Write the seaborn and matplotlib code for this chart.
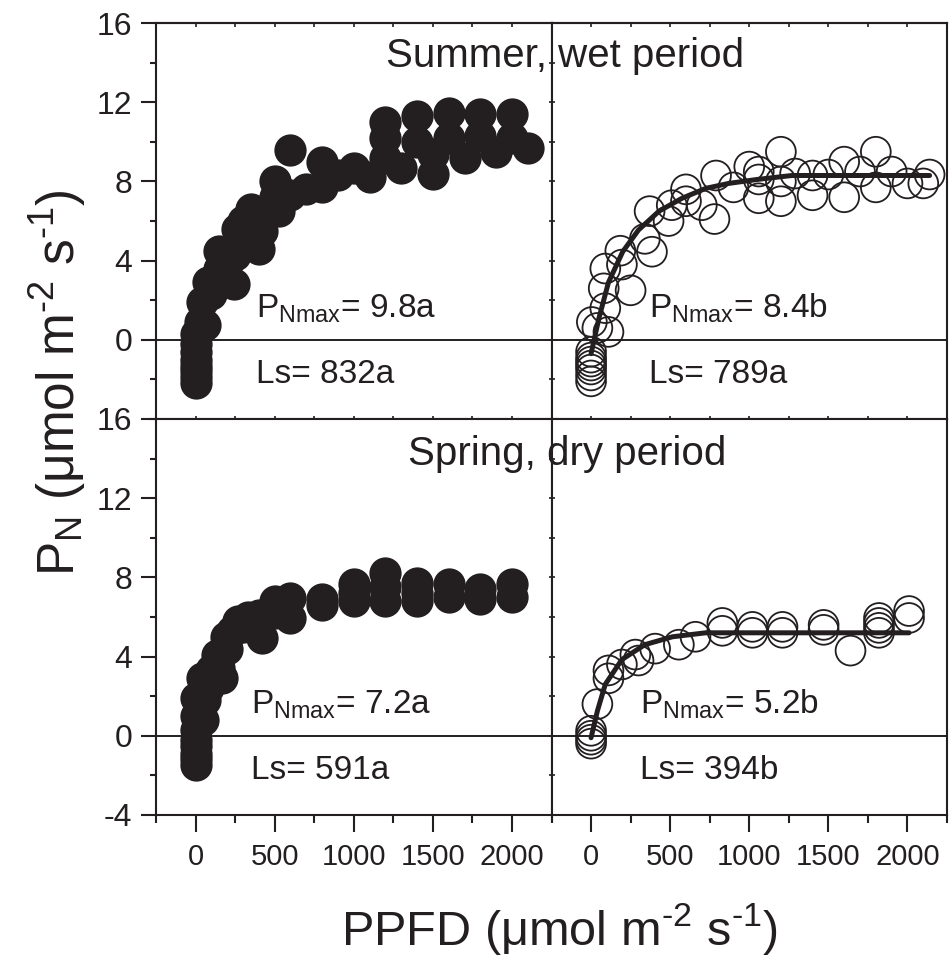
import seaborn as sns
import matplotlib.pyplot as plt
from matplotlib.ticker import MultipleLocator

# summer (wet period), filled symbols - left panel
summer_fill_ppfd = [0, 0, 0, 0, 0, 0, 0, 0, 25, 40, 60, 80, 100, 150, 150, 200, 240, 260, 250,
                    300, 350, 400, 420, 500, 530, 500, 600, 600, 700, 800, 800, 900, 1000, 1100,
                    1200, 1200, 1200, 1300, 1400, 1400, 1500, 1500, 1600, 1600, 1700, 1800, 1800,
                    1900, 2000, 2000, 2100]
summer_fill_pn = [-2.2, -1.9, -1.6, -1.3, -1.0, -0.6, -0.2, 0.3, 0.9, 1.9, 0.75, 2.9, 2.3, 4.5, 3.6,
                  3.2, 2.8, 5.6, 4.3, 6.0, 6.6, 4.6, 5.5, 8.0, 6.5, 7.2, 9.6, 7.3, 7.6, 9.0, 7.7,
                  8.3, 8.7, 8.2, 11.0, 10.2, 9.2, 8.7, 11.3, 10.0, 8.4, 9.4, 11.45, 10.2, 9.2, 11.4,
                  10.3, 9.5, 11.4, 10.2, 9.7]

# summer (wet period), open symbols - right panel
summer_open_ppfd = [0, 0, 0, 0, 0, 0, 0, 5, 40, 90, 80, 90, 110, 185, 195, 250, 340, 370, 385, 490,
                    510, 600, 600, 700, 780, 790, 900, 1000, 1060, 1060, 1060, 1200, 1200, 1200,
                    1290, 1400, 1400, 1500, 1600, 1600, 1700, 1800, 1800, 1900, 2000, 2100, 2140]
summer_open_pn = [-2.1, -1.8, -1.5, -1.3, -1.1, -0.9, -0.6, 0.9, 0.6, 1.6, 2.6, 3.6, 0.4, 4.5, 3.8,
                  2.5, 5.1, 6.5, 4.45, 6.0, 6.8, 7.6, 7.0, 6.8, 6.1, 8.3, 7.7, 8.75, 8.1, 8.5, 7.15,
                  9.5, 8.0, 7.0, 8.4, 7.3, 8.3, 8.35, 7.2, 9.0, 8.5, 9.5, 7.7, 8.5, 7.9, 7.9, 8.35]
summer_fit_ppfd = [0, 50, 110, 200, 300, 430, 575, 725, 870, 1050, 1270, 1600, 2140]
summer_fit_pn = [-0.7, 1.1, 2.9, 4.45, 5.55, 6.5, 7.15, 7.65, 7.9, 8.1, 8.3, 8.3, 8.3]

# spring (dry period), filled symbols - left panel
spring_fill_ppfd = [0, 0, 0, 0, 0, 0, 0, 0, 25, 40, 50, 60, 80, 100, 135, 150, 165, 190, 200, 230,
                    270, 300, 330, 400, 420, 500, 500, 600, 600, 800, 800, 1000, 1000, 1000, 1200,
                    1200, 1200, 1400, 1400, 1400, 1600, 1600, 1800, 1800, 2000, 2000]
spring_fill_pn = [-1.5, -1.2, -0.9, -0.5, -0.2, 0.3, 1.0, 1.9, 1.4, 2.9, 0.8, 1.8, 2.4, 3.3, 4.1,
                  3.4, 2.9, 5.0, 4.4, 5.3, 5.8, 5.5, 6.0, 6.1, 4.95, 6.8, 6.2, 6.95, 5.95, 6.9, 6.6,
                  7.65, 7.2, 6.8, 8.2, 7.5, 6.8, 7.7, 7.2, 6.8, 7.65, 7.0, 7.4, 6.9, 7.65, 7.0]

# spring (dry period), open symbols - right panel
spring_open_ppfd = [0, 0, 0, 0, 40, 110, 110, 195, 280, 300, 405, 555, 660, 830, 830, 1020, 1020,
                    1210, 1210, 1470, 1470, 1640, 1820, 1820, 1820, 1820, 2010, 2010]
spring_open_pn = [0.25, 0.0, -0.2, -0.4, 1.6, 2.9, 3.3, 3.6, 4.1, 3.8, 4.4, 4.6, 5.0, 5.3, 5.7, 5.5,
                  5.2, 5.5, 5.2, 5.6, 5.35, 4.3, 5.7, 5.45, 5.2, 5.95, 6.3, 5.95]
spring_fit_ppfd = [0, 40, 90, 195, 340, 515, 725, 1200, 2010]
spring_fit_pn = [-0.1, 1.25, 2.6, 3.85, 4.6, 5.0, 5.2, 5.2, 5.2]

titles = ['Summer, wet period', 'Spring, dry period']
pnmax_text = [['9.8a', '8.4b'], ['7.2a', '5.2b']]
ls_text = [['832a', '789a'], ['591a', '394b']]

ink = '#231f20'

sns.set_style('ticks')
plt.rcParams['font.family'] = ['Liberation Sans', 'DejaVu Sans']
plt.rcParams['mathtext.fontset'] = 'custom'
plt.rcParams['mathtext.rm'] = 'Liberation Sans'
plt.rcParams['mathtext.it'] = 'Liberation Sans:italic'
plt.rcParams['mathtext.bf'] = 'Liberation Sans:bold'
plt.rcParams['axes.unicode_minus'] = False
plt.rcParams['axes.edgecolor'] = ink
plt.rcParams['axes.linewidth'] = 1.5

fig, axes = plt.subplots(2, 2, figsize=(9.49, 9.61), dpi=100)
fig.subplots_adjust(left=0.1644, right=0.9979, top=0.976, bottom=0.152, wspace=0, hspace=0)

panels = [[(summer_fill_ppfd, summer_fill_pn, None, None),
           (summer_open_ppfd, summer_open_pn, summer_fit_ppfd, summer_fit_pn)],
          [(spring_fill_ppfd, spring_fill_pn, None, None),
           (spring_open_ppfd, spring_open_pn, spring_fit_ppfd, spring_fit_pn)]]

for r in range(2):
    for c in range(2):
        ax = axes[r, c]
        px, py, fx, fy = panels[r][c]
        ax.axhline(0, color=ink, lw=1.4, zorder=1)
        if c == 0:
            sns.scatterplot(x=px, y=py, ax=ax, s=540, color=ink, edgecolor=ink,
                            linewidth=0, zorder=2)
        else:
            sns.scatterplot(x=px, y=py, ax=ax, s=460, color='white', edgecolor=ink,
                            linewidth=1.3, zorder=2)
            ax.collections[-1].set_facecolor('none')
            sns.lineplot(x=fx, y=fy, ax=ax, color=ink, lw=3.6, sort=False, zorder=3)

        ax.set_xlim(-250, 2250)
        ax.set_ylim(-4, 16)
        ax.set_xticks([0, 500, 1000, 1500, 2000])
        ax.xaxis.set_minor_locator(MultipleLocator(250))
        ax.yaxis.set_minor_locator(MultipleLocator(2))
        ax.set_xlabel('')
        ax.set_ylabel('')

        # y axis
        if c == 0:
            ax.set_yticks([0, 4, 8, 12, 16] if r == 0 else [-4, 0, 4, 8, 12, 16])
            ax.tick_params(axis='y', which='major', direction='out', length=11, width=1.5,
                           labelsize=23, pad=6, colors=ink)
            ax.tick_params(axis='y', which='minor', direction='out', length=4.5, width=1.5,
                           colors=ink)
        else:
            ax.set_yticks([-4, 0, 4, 8, 12, 16])
            ax.tick_params(axis='y', which='both', direction='inout', length=5, width=1.2,
                           labelleft=False, colors=ink)

        # x axis
        if r == 1:
            ax.tick_params(axis='x', which='major', direction='out', length=12, width=1.5,
                           labelsize=21, pad=8, colors=ink)
            ax.tick_params(axis='x', which='minor', direction='out', length=6, width=1.5,
                           colors=ink)
        else:
            ax.tick_params(axis='x', which='both', direction='inout', length=5, width=1.2,
                           labelbottom=False, colors=ink)
            sec = ax.secondary_xaxis('top')
            sec.set_xticks([0, 500, 1000, 1500, 2000])
            sec.xaxis.set_minor_locator(MultipleLocator(250))
            sec.tick_params(which='both', direction='in', length=3, width=1.2,
                            labeltop=False, colors=ink)

        text_x = (380 if c == 0 else 367) - (30 * r if c == 0 else 55 * r)
        ax.text(text_x, 1.1, r'P$_{\mathrm{Nmax}}$= ' + pnmax_text[r][c],
                fontsize=24, color=ink, va='baseline', ha='left')
        ax.text(text_x, -2.2, 'Ls= ' + ls_text[r][c],
                fontsize=24, color=ink, va='baseline', ha='left')

fig.text(565 / 949, 1 - 67 / 961, titles[0], fontsize=29, color=ink,
         ha='center', va='baseline')
fig.text(567 / 949, 1 - 465 / 961, titles[1], fontsize=29, color=ink,
         ha='center', va='baseline')

fig.text(58 / 949, 1 - 383 / 961, r'P$_{\mathrm{N}}$ (μmol m$^{\text{-}2}$ s$^{\text{-}1}$)',
         fontsize=37, color=ink, rotation=90, ha='center', va='center')
fig.text(559 / 949, 1 - 945 / 961, r'PPFD (μmol m$^{\text{-}2}$ s$^{\text{-}1}$)',
         fontsize=35, color=ink, ha='center', va='baseline')

fig.savefig('out.png', dpi=100)
